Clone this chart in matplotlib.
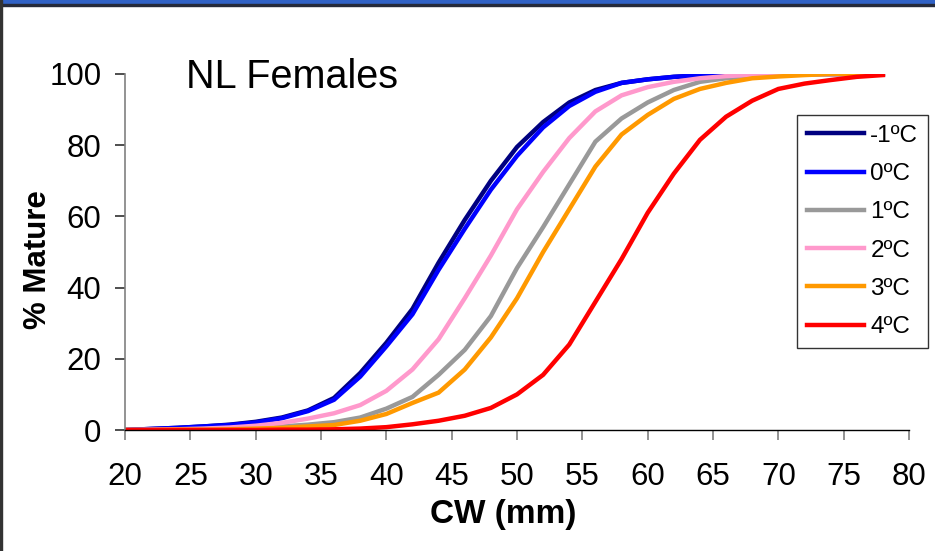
import numpy as np
import matplotlib
matplotlib.use("Agg")
import matplotlib.pyplot as plt
from matplotlib.patches import Rectangle

plt.rcParams['font.family'] = ['Liberation Sans', 'DejaVu Sans']

# carapace width (mm)
cw = [20, 22, 24, 26, 28, 30, 32, 34, 36, 38, 40, 42, 44, 46, 48, 50,
      52, 54, 56, 58, 60, 62, 64, 66, 68, 70, 72, 74, 76, 78]

# % mature at each temperature
mat_m1 = [0, 0.3, 0.6, 1, 1.5, 2.3, 3.5, 5.5, 9, 16, 24.5, 34, 47, 59, 70, 79.5,
          86.5, 92, 95.5, 97.5, 98.5, 99.2, 99.6, 99.8, 100, 100, 100, 100, 100, 100]
mat_0 = [0, 0.3, 0.6, 1, 1.4, 2.1, 3.3, 5.3, 8.5, 15, 23.5, 32.5, 45, 56.5, 67.5, 77,
         85, 91, 95, 97.5, 98.5, 99.2, 99.6, 99.8, 100, 100, 100, 100, 100, 100]
mat_1 = [0, 0, 0.1, 0.2, 0.4, 0.6, 1, 1.5, 2.2, 3.5, 6, 9.3, 15.5, 22.5, 32, 45.5,
         57, 69, 81, 87.5, 92, 95.5, 97.8, 98.8, 99.4, 99.8, 100, 100, 100, 100]
mat_2 = [0, 0.1, 0.2, 0.4, 0.7, 1.2, 2, 3.2, 4.7, 7, 11, 17, 25.5, 37, 49, 62,
         72.5, 82, 89.5, 94, 96.3, 97.8, 98.8, 99.4, 99.8, 100, 100, 100, 100, 100]
mat_3 = [0, 0, 0.1, 0.1, 0.2, 0.4, 0.6, 1, 1.4, 2.6, 4.5, 7.6, 10.5, 17, 26, 37,
         50, 62, 74, 83, 88.5, 93, 95.8, 97.5, 98.8, 99.3, 99.7, 100, 100, 100]
mat_4 = [0, 0, 0, 0, 0, 0, 0.1, 0.1, 0.2, 0.4, 0.8, 1.6, 2.6, 4, 6.2, 10,
         15.5, 24, 36, 48, 61, 72, 81.5, 88, 92.5, 95.8, 97.3, 98.3, 99.2, 99.7]

labels = ['-1ºC', '0ºC', '1ºC', '2ºC', '3ºC', '4ºC']
colors = ['#000080', '#0000ff', '#999999', '#ff99cc', '#ff9900', '#ff0000']
series = [mat_m1, mat_0, mat_1, mat_2, mat_3, mat_4]

fig = plt.figure(figsize=(9.35, 5.51), dpi=100)
ax = fig.add_axes([125 / 935, 121 / 551, 784 / 935, 356 / 551])

for vals, lab, col in zip(series, labels, colors):
    ax.plot(cw, vals, color=col, lw=3.2, label=lab, solid_joinstyle='miter')

ax.set_xlim(20, 80)
ax.set_ylim(0, 100)
ax.set_xticks(np.arange(20, 81, 5))
ax.set_yticks(np.arange(0, 101, 20))
for s in ['top', 'right']:
    ax.spines[s].set_visible(False)
ax.spines['left'].set_color('#808080')
ax.spines['left'].set_linewidth(1.2)
ax.spines['bottom'].set_color('#000000')
ax.spines['bottom'].set_linewidth(1.0)
ax.tick_params(axis='x', direction='out', length=7, width=1.2, color='#808080',
               labelsize=22.5, pad=16)
ax.tick_params(axis='y', direction='out', length=7, width=1.2, color='#303030',
               labelsize=22.5, pad=10)

ax.set_xlabel('CW (mm)', fontsize=24, fontweight='bold')
ax.xaxis.set_label_coords((503 - 125) / 784, -(515 - 430) / 356)
ax.xaxis.label.set_va('center')
ax.set_ylabel('% Mature', fontsize=22.5, fontweight='bold')
ax.yaxis.set_label_coords(-(125 - 38) / 784, (430 - 260) / 356)
ax.yaxis.label.set_va('center')

ax.text(24.7, 96, 'NL Females', fontsize=28.5, va='baseline', ha='left')

leg = ax.legend(loc='upper right', bbox_to_anchor=(928 / 935, 1 - 115 / 551),
                bbox_transform=fig.transFigure, fontsize=17.5, frameon=True,
                fancybox=False, handlelength=2.35, handletextpad=0.25,
                labelspacing=0.67, borderpad=0.4, borderaxespad=0)
leg.get_frame().set_edgecolor('black')
leg.get_frame().set_linewidth(1.0)

# slide frame: blue bar on top and dark left edge
fig.patches.append(Rectangle((0, 1 - 4 / 551), 1, 4 / 551, transform=fig.transFigure,
                             color='#3162c6', zorder=0))
fig.patches.append(Rectangle((0, 1 - 6 / 551), 1, 2 / 551, transform=fig.transFigure,
                             color='#262a3a', zorder=0))
fig.patches.append(Rectangle((0, 0), 1.5 / 935, 1, transform=fig.transFigure,
                             color='#333333', zorder=0))

fig.savefig('out.png', dpi=100)
